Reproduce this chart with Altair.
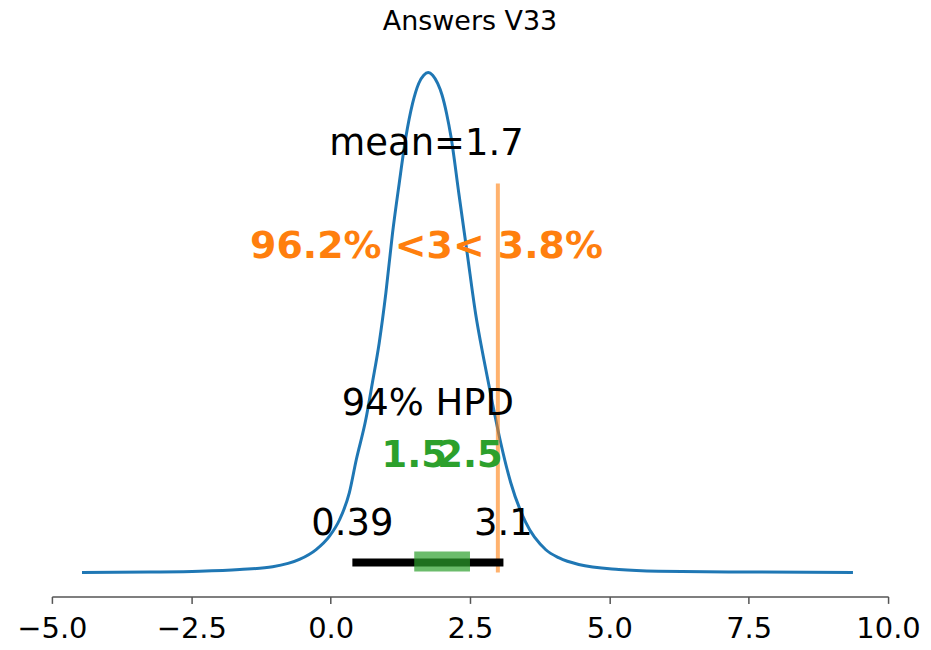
import altair as alt
import pandas as pd

# Posterior density curve
density_x = [-4.46, -3.24, -2.35, -1.63, -1.04, -0.56, -0.26, -0.02, 0.16, 0.335, 0.46, 0.63,
             0.75, 0.87, 0.99, 1.11, 1.23, 1.35, 1.47, 1.58, 1.67, 1.75, 1.83, 1.92, 2.0, 2.08,
             2.16, 2.3, 2.45, 2.6, 2.75, 2.9, 3.05, 3.23, 3.5, 3.86, 4.1, 4.45, 5.17, 5.88,
             7.49, 9.37]
density_y = [0.0, 0.0005, 0.0014, 0.0033, 0.0063, 0.0143, 0.0252, 0.040, 0.058, 0.0875, 0.124,
             0.168, 0.209, 0.252, 0.307, 0.373, 0.428, 0.479, 0.516, 0.538, 0.547, 0.550,
             0.547, 0.538, 0.525, 0.505, 0.479, 0.417, 0.351, 0.285, 0.234, 0.187, 0.143,
             0.099, 0.055, 0.025, 0.016, 0.0088, 0.0033, 0.0014, 0.0005, 0.0]

mean_val = 1.72
mean_label = "mean=1.7"
hpd_bounds = [0.39, 3.1]
hpd_labels = ["0.39", "3.1"]
quartiles = [1.5, 2.5]
quartile_labels = ["1.5", "2.5"]
ref_val = 3.0
ref_label = "96.2% <3< 3.8%"
hpd_title = "94% HPD"
x_ticks = [-5.0, -2.5, 0.0, 2.5, 5.0, 7.5, 10.0]

FONT = "DejaVu Sans"
xs = alt.Scale(domain=[-5, 10], nice=False, zero=False)
ys = alt.Scale(domain=[-0.02635, 0.57416], nice=False, zero=False)

dens = pd.DataFrame({"x": density_x, "y": density_y})

curve = alt.Chart(dens).mark_line(color="#1f77b4", strokeWidth=3, interpolate="monotone").encode(
    x=alt.X("x:Q", scale=xs, axis=alt.Axis(values=x_ticks, format=".1f", title=None, grid=False,
                                            labelFontSize=29, labelFont=FONT, labelColor="black",
                                            labelFlush=False, labelOverlap=False,
                                            domainColor="#555", domainWidth=1.5, tickColor="#555",
                                            tickWidth=1.5, tickSize=7, labelPadding=11)),
    y=alt.Y("y:Q", scale=ys, axis=None),
)

ref_df = pd.DataFrame({"x": [ref_val], "y0": [0.0], "y1": [0.428]})
ref_line = alt.Chart(ref_df).mark_rule(color="#ff7f0e", opacity=0.6, strokeWidth=4).encode(
    x=alt.X("x:Q", scale=xs), y=alt.Y("y0:Q", scale=ys), y2="y1:Q")

hpd_df = pd.DataFrame({"x0": [hpd_bounds[0]], "x1": [hpd_bounds[1]], "y": [0.011]})
hpd_bar = alt.Chart(hpd_df).mark_rule(color="black", strokeWidth=8).encode(
    x=alt.X("x0:Q", scale=xs), x2="x1:Q", y=alt.Y("y:Q", scale=ys))

q_df = pd.DataFrame({"x0": [quartiles[0]], "x1": [quartiles[1]], "y": [0.012]})
q_bar = alt.Chart(q_df).mark_rule(color="#2ca02c", opacity=0.7, strokeWidth=20).encode(
    x=alt.X("x0:Q", scale=xs), x2="x1:Q", y=alt.Y("y:Q", scale=ys))


def text_layer(xv, yv, labels, color="black", weight="normal", size=37):
    df = pd.DataFrame({"x": xv, "y": yv, "t": labels})
    return alt.Chart(df).mark_text(font=FONT, fontSize=size, color=color, fontWeight=weight,
                                   align="center", baseline="alphabetic").encode(
        x=alt.X("x:Q", scale=xs), y=alt.Y("y:Q", scale=ys), text="t:N")


t_mean = text_layer([mean_val], [0.459], [mean_label])
t_ref = text_layer([mean_val], [0.3458], [ref_label], color="#ff7f0e", weight="bold", size=38)
t_hpd = text_layer([(hpd_bounds[0] + hpd_bounds[1]) / 2], [0.1735], [hpd_title])
t_q = text_layer(quartiles, [0.1164, 0.1164], quartile_labels, color="#2ca02c", weight="bold")
t_hpdv = text_layer(hpd_bounds, [0.0417, 0.0417], hpd_labels)

chart = alt.layer(curve, ref_line, hpd_bar, q_bar, t_mean, t_ref, t_hpd, t_q, t_hpdv).properties(
    width=838, height=547,
    title=alt.TitleParams("Answers V33", fontSize=27, font=FONT, fontWeight="normal",
                          color="black", anchor="middle", offset=15),
    padding={"left": 44, "top": 42, "right": 35, "bottom": 50},
    autosize=alt.AutoSizeParams(type="none"),
).configure_view(stroke=None)

chart.save("out.html", embed_options={"renderer": "svg", "actions": False})
